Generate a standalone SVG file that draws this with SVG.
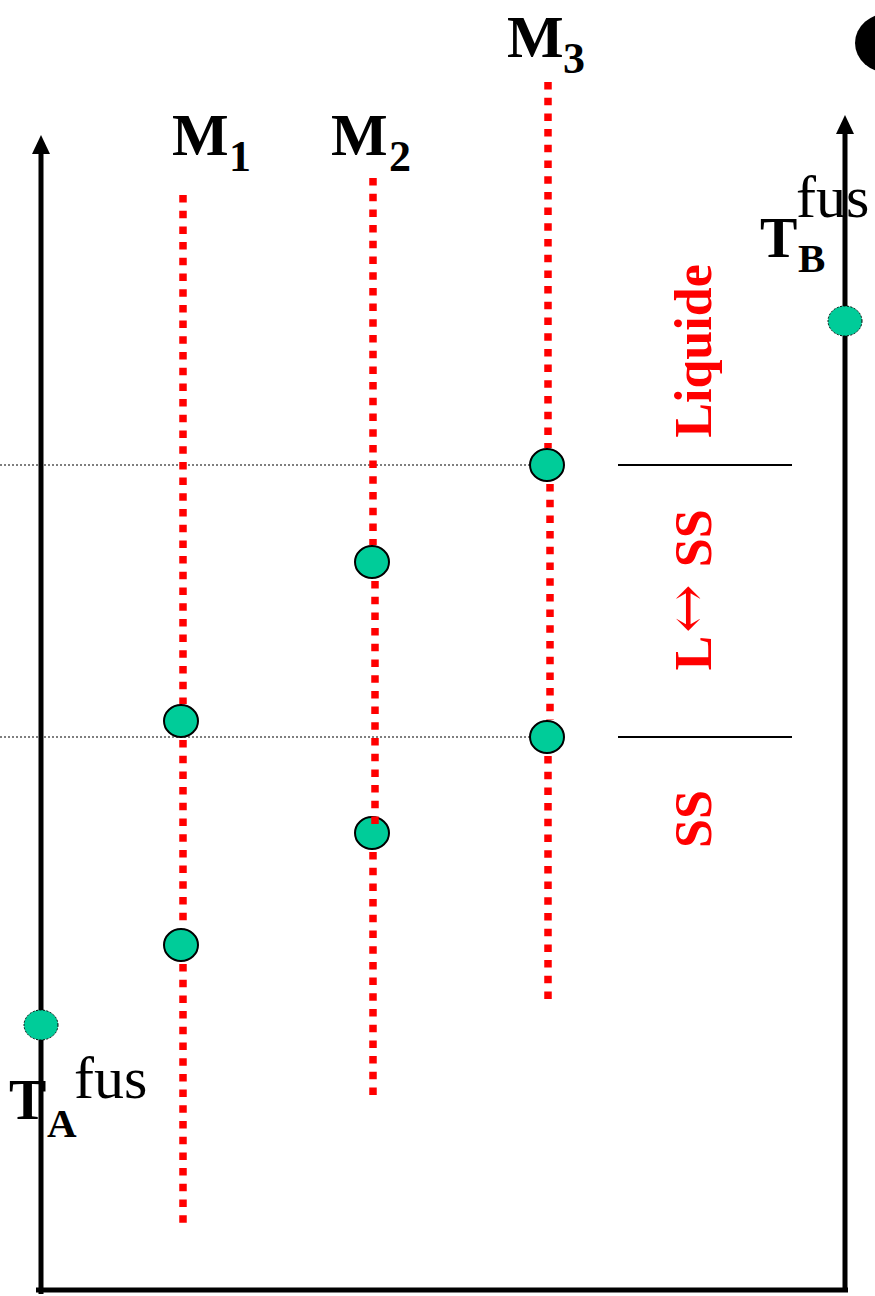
<svg xmlns="http://www.w3.org/2000/svg" width="875" height="1296" viewBox="0 0 875 1296">
<style>
.lbl{font-family:"Liberation Serif","Times New Roman",serif;fill:#000}
.b{font-weight:bold}
.red{font-family:"Liberation Serif","Times New Roman",serif;font-weight:bold;fill:#ff0000;font-size:52px}
.arr{font-family:"DejaVu Serif","DejaVu Sans",serif;font-weight:normal;font-size:58px}
.rd{stroke:#ff0000;stroke-width:7.5;stroke-dasharray:7.5 8.2;fill:none}
.dot{fill:#00cc99;stroke:#000;stroke-width:2}
.adot{fill:#00cc99;stroke:#000;stroke-width:1;stroke-dasharray:2 1.5}
.axis{stroke:#000;stroke-width:5;fill:none}
.guide{stroke:#000;stroke-width:1.2;stroke-dasharray:2 2;fill:none}
.sep{stroke:#000;stroke-width:2;fill:none}
</style>
<rect width="875" height="1296" fill="#fff"/>
<ellipse cx="889" cy="43" rx="34" ry="30" fill="#000"/>
<g id="labels">
<text class="lbl b" x="172" y="155" font-size="60">M</text>
<text class="lbl b" x="229" y="171" font-size="44">1</text>
<text class="lbl b" x="331" y="155" font-size="60">M</text>
<text class="lbl b" x="389" y="171" font-size="44">2</text>
<text class="lbl b" x="507" y="57" font-size="60">M</text>
<text class="lbl b" x="563" y="73" font-size="44">3</text>
<text class="lbl" x="796" y="217" font-size="60">fus</text>
<text class="lbl b" x="760" y="257" font-size="56">T</text>
<text class="lbl b" x="798" y="272" font-size="41">B</text>
<text class="lbl" x="74" y="1098" font-size="60">fus</text>
<text class="lbl b" x="9" y="1119" font-size="56">T</text>
<text class="lbl b" x="47" y="1137" font-size="41">A</text>
</g>
<g id="regions">
<text class="red" transform="translate(711,351) rotate(-90)" text-anchor="middle">Liquide</text>
<text class="red" transform="translate(711,590) rotate(-90)" text-anchor="middle">L<tspan class="arr" dx="3" dy="-4">↔</tspan><tspan dx="4" dy="4"> SS</tspan></text>
<text class="red" transform="translate(711,819) rotate(-90)" text-anchor="middle">SS</text>
<line class="sep" x1="618" y1="465" x2="792" y2="465"/>
<line class="sep" x1="618" y1="737" x2="792" y2="737"/>
</g>
<g id="guides">
<line class="guide" x1="0" y1="465" x2="530" y2="465"/>
<line class="guide" x1="0" y1="737" x2="530" y2="737"/>
</g>
<g id="axes">
<line class="axis" x1="41" y1="1294" x2="41" y2="150"/>
<polygon points="41,135 32,154 50,154" fill="#000"/>
<line class="axis" x1="36" y1="1290" x2="848" y2="1290"/>
<line class="axis" x1="845" y1="1292" x2="845" y2="130"/>
<polygon points="845,115 836,134 854,134" fill="#000"/>
</g>
<g id="nodes">
<g id="TA"><ellipse class="adot" cx="41" cy="1025" rx="17" ry="15"/></g>
<g id="TB"><ellipse class="adot" cx="845" cy="321" rx="17" ry="15"/></g>
<g id="M1-liq"><ellipse class="dot" cx="181" cy="721" rx="17" ry="16"/></g>
<g id="M1-sol"><ellipse class="dot" cx="181" cy="945" rx="17" ry="16"/></g>
<g id="M2-liq"><ellipse class="dot" cx="372" cy="562" rx="17" ry="16"/></g>
<g id="M2-sol"><ellipse class="dot" cx="372" cy="833" rx="17" ry="16"/></g>
<g id="M3-liq"><ellipse class="dot" cx="547" cy="465" rx="17" ry="16"/></g>
<g id="M3-sol"><ellipse class="dot" cx="547" cy="737" rx="17" ry="16"/></g>
</g>
<g id="connectors">
<line class="rd" x1="183" y1="195" x2="183" y2="704"/>
<line class="rd" x1="183" y1="740" x2="183" y2="928"/>
<line class="rd" x1="183" y1="964" x2="183" y2="1227"/>
<line class="rd" x1="373" y1="178" x2="373" y2="545"/>
<line class="rd" x1="375" y1="581" x2="375" y2="828"/>
<line class="rd" x1="373" y1="852" x2="373" y2="1098"/>
<line class="rd" x1="548" y1="82" x2="548" y2="448"/>
<line class="rd" x1="550" y1="484" x2="550" y2="720"/>
<line class="rd" x1="548" y1="756" x2="548" y2="1002"/>
</g>
</svg>
